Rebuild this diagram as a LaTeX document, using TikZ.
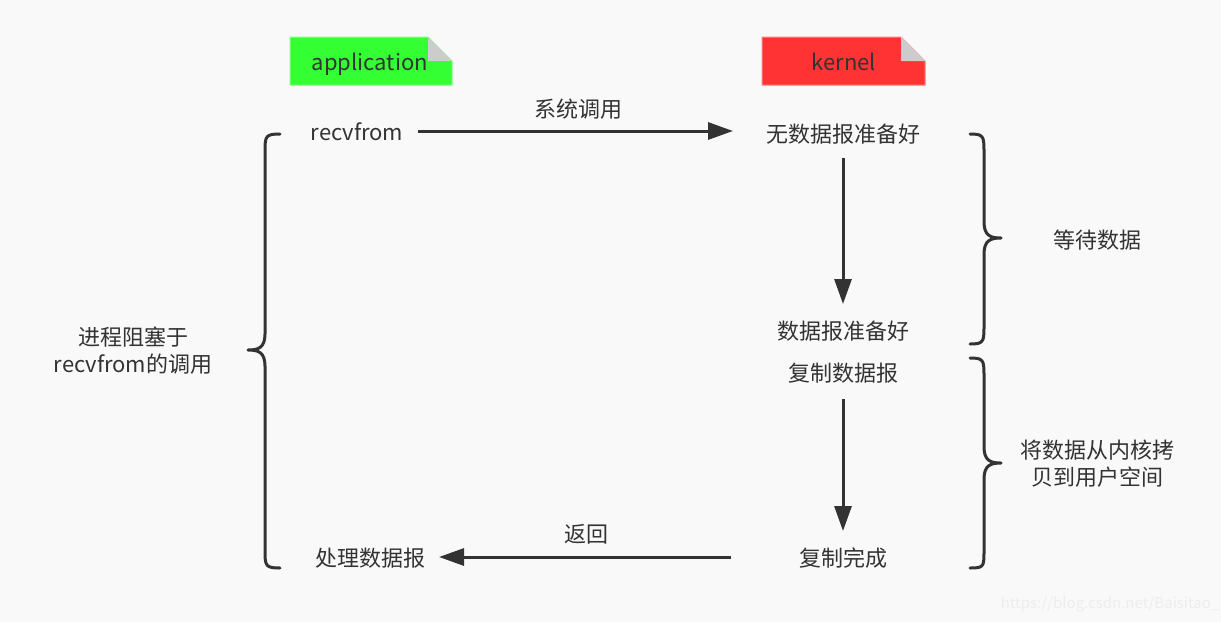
\documentclass[tikz,border=0pt]{standalone}
\usepackage{fontspec}
\setmainfont{Noto Sans CJK SC}
\usetikzlibrary{arrows.meta}
\definecolor{bg}{HTML}{F9F9F9}
\definecolor{ink}{HTML}{333333}
\definecolor{appgreen}{HTML}{33FF33}
\definecolor{kernred}{HTML}{FF3333}
\definecolor{fold}{HTML}{CCCCCC}
\tikzset{
  txtbase/.style={font=\fontsize{22}{27}\selectfont, text=ink, inner sep=0pt},
  txt/.style={txtbase, text height=19pt, text depth=2pt},
  txttwo/.style={txtbase, align=center},
  arr/.style={draw=ink, line width=3pt, -{Triangle[length=25pt,width=17pt]}},
  brace/.style={draw=ink, line width=3pt, line cap=round, line join=round},
  tagbox/.style={line width=1pt}
}
\begin{document}
\begin{tikzpicture}[x=1pt,y=-1pt]
\fill[bg] (0,0) rectangle (1221,622);
\useasboundingbox (0,0) rectangle (1221,622);

% tags
\fill[appgreen] (290,37) -- (428,37) -- (452,61) -- (452,85) -- (290,85) -- cycle;
\draw[appgreen!60!white, tagbox] (290,37) -- (428,37) -- (452,61) -- (452,85) -- (290,85) -- cycle;
\fill[fold] (428,37) -- (452,61) -- (428,61) -- cycle;
\node[txt] (app) at (370,62) {application};

\fill[kernred] (762,37) -- (901,37) -- (925,61) -- (925,85) -- (762,85) -- cycle;
\draw[kernred!60!white, tagbox] (762,37) -- (901,37) -- (925,61) -- (925,85) -- (762,85) -- cycle;
\fill[fold] (901,37) -- (925,61) -- (901,61) -- cycle;
\node[txt] (kern) at (844,62) {kernel};

% texts
\node[txt] (recv) at (357,132) {recvfrom};
\node[txt] (nodata) at (843,134) {无数据报准备好};
\node[txt] (ready) at (843,331) {数据报准备好};
\node[txt] (copy) at (843,373) {复制数据报};
\node[txt] (done) at (843,558) {复制完成};
\node[txt] (proc) at (370,558) {处理数据报};
\node[txt] (syscall) at (578,109) {系统调用};
\node[txt] (ret) at (586,534) {返回};
\node[txttwo] (block) at (133,351) {进程阻塞于\\recvfrom的调用};
\node[txt] (wait) at (1097,240) {等待数据};
\node[txttwo] (cp2user) at (1097,464) {将数据从内核拷\\贝到用户空间};
\node[inner sep=0pt, text=black!7, font=\fontsize{15}{16}\selectfont] (wm) at (1110,604) {https://blog.csdn.net/Baisitao\_};

% connectors
\coordinate (a1s) at (418,131);
\coordinate (a1e) at (733,131);
\coordinate (a2s) at (843,158);
\coordinate (a2e) at (843,304);
\coordinate (a3s) at (843,399);
\coordinate (a3e) at (843,531);
\coordinate (a4s) at (731,557);
\coordinate (a4e) at (439,557);
\draw[arr] (a1s) -- (a1e);
\draw[arr] (a2s) -- (a2e);
\draw[arr] (a3s) -- (a3e);
\draw[arr] (a4s) -- (a4e);

% left brace
\draw[brace] (280,134) .. controls (266,134) and (265,136) .. (265,150)
  -- (265,334) .. controls (265,348) and (258,350) .. (248,350)
  .. controls (258,350) and (265,352) .. (265,366)
  -- (265,552) .. controls (265,566) and (266,568) .. (280,568);

% right brace 1
\draw[brace] (970,134) .. controls (983,134) and (984,136) .. (984,150)
  -- (984,222) .. controls (984,236) and (991,238) .. (1001,238)
  .. controls (991,238) and (984,240) .. (984,254)
  -- (984,328) .. controls (984,342) and (983,344) .. (970,344);

% right brace 2
\draw[brace] (970,358) .. controls (983,358) and (984,360) .. (984,374)
  -- (984,447) .. controls (984,461) and (991,463) .. (1001,463)
  .. controls (991,463) and (984,465) .. (984,479)
  -- (984,553) .. controls (984,567) and (983,568) .. (970,568);
\end{tikzpicture}
\end{document}
